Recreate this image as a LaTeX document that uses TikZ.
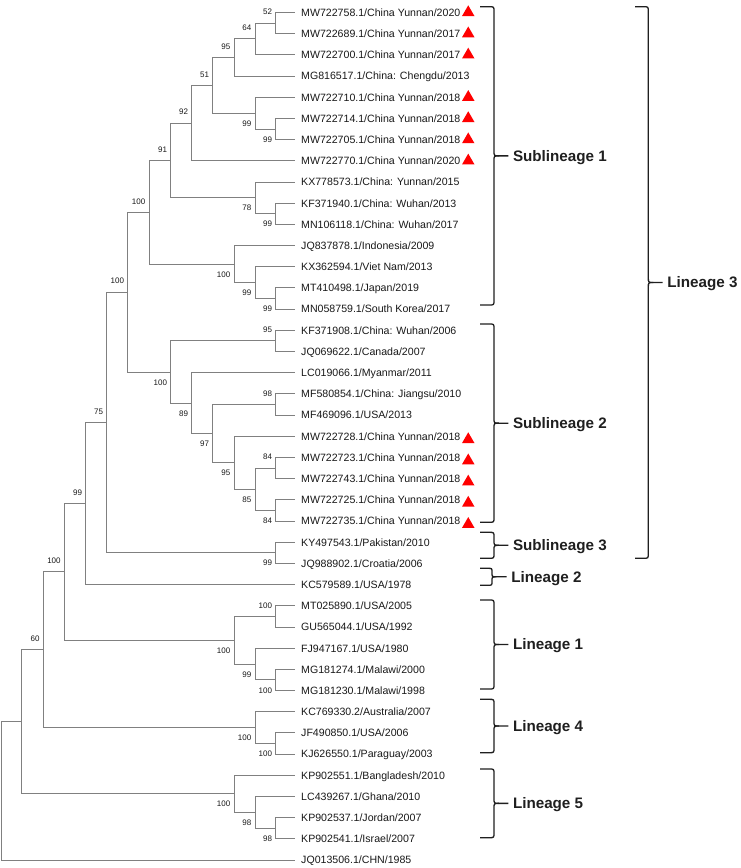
\documentclass[tikz,border=0pt]{standalone}
\usepackage{fontspec}
\setmainfont{Liberation Sans}
\newcommand\cladebrace[7]{% #1 name, #2 hook x, #3 spine x, #4 tip x, #5 top y, #6 bottom y, #7 text
  \pgfmathsetmacro\cbm{(#5+#6)/2}%
  \pgfmathsetmacro\cbr{min(5,(#6-#5)/4)}%
  \coordinate (#1-top) at (#2,#5);
  \coordinate (#1-bot) at (#2,#6);
  \coordinate (#1-tip) at (#4,\cbm);
  \draw[brace] (#1-top) -- (#3-\cbr,#5) .. controls (#3,#5) .. (#3,#5+\cbr) -- (#3,\cbm-\cbr) .. controls (#3,\cbm) .. (#3+\cbr,\cbm) -- (#1-tip);
  \draw[brace] (#3+\cbr,\cbm) .. controls (#3,\cbm) .. (#3,\cbm+\cbr) -- (#3,#6-\cbr) .. controls (#3,#6) .. (#3-\cbr,#6) -- (#1-bot);
  \node[clade] (#1) at (#1-tip) {#7};
}
\newcommand\redmark[2]{\fill[tri] ([shift={(173.25,#2-7.2)}]l#1) -- ([shift={(179.5,#2+3.6)}]l#1) -- ([shift={(167,#2+3.6)}]l#1) -- cycle;}
\begin{document}
\begin{tikzpicture}[x=1pt,y=-1pt,
  br/.style={draw=gray, line width=1pt},
  leaf/.style={anchor=base west, inner sep=0pt, font=\fontsize{10.6}{12}\selectfont, text=black!90, xshift=6pt, yshift=-3.8pt},
  bsup/.style={anchor=east, inner sep=0pt, font=\fontsize{8}{9}\selectfont, text=black!90, xshift=-3.5pt, yshift=11pt},
  bsdn/.style={anchor=east, inner sep=0pt, font=\fontsize{8}{9}\selectfont, text=black!90, xshift=-3.5pt, yshift=-10.3pt},
  brace/.style={draw=black!88, line width=1.3pt},
  clade/.style={anchor=base west, inner sep=0pt, font=\fontsize{15.2}{18}\selectfont\bfseries, text=black!88, xshift=4.5pt, yshift=-5.4pt},
  tri/.style={fill=red}
]
\fill[white] (0,0) rectangle (740,868);
\useasboundingbox (0,0) rectangle (740,868);

% leaf tips
\foreach \i in {1,...,41} { \coordinate (l\i) at (295,{12.5+21.19*(\i-1)}); }

% internal nodes
\coordinate (n12)   at (275.7,23.10);
\coordinate (n123)  at (255,38.99);
\coordinate (n1234) at (234,57.53);
\coordinate (n67)   at (275.7,129.05);
\coordinate (n567)  at (255,113.15);
\coordinate (nX4)   at (212.7,85.34);
\coordinate (nX3)   at (191.7,123.09);
\coordinate (n1011) at (275.7,213.80);
\coordinate (nK1)   at (255,197.91);
\coordinate (nX2)   at (170.7,160.50);
\coordinate (n1415) at (275.7,298.57);
\coordinate (nZ1)   at (255,282.67);
\coordinate (nY1)   at (234,264.13);
\coordinate (nX1)   at (149,212.32);
\coordinate (n1617) at (275.7,340.95);
\coordinate (n1920) at (275.7,404.52);
\coordinate (n2223) at (275.7,468.09);
\coordinate (n2425) at (275.7,510.47);
\coordinate (nJ)    at (255,489.28);
\coordinate (nI)    at (234,462.79);
\coordinate (nH)    at (212.7,433.66);
\coordinate (nG)    at (191.7,403.20);
\coordinate (nS2)   at (170.7,372.08);
\coordinate (nWb)   at (127.7,292.20);
\coordinate (n2627) at (275.7,552.85);
\coordinate (nVb)   at (106.7,422.52);
\coordinate (nU)    at (85.7,503.58);
\coordinate (n2930) at (275.7,616.42);
\coordinate (n3233) at (275.7,679.99);
\coordinate (nV)    at (255,664.10);
\coordinate (nL1)   at (234,640.26);
\coordinate (nT)    at (64.3,571.92);
\coordinate (n3536) at (275.7,743.56);
\coordinate (nL4)   at (255,727.67);
\coordinate (nN60)  at (43.3,649.80);
\coordinate (n3940) at (275.7,828.32);
\coordinate (nQ)    at (255,812.43);
\coordinate (nL5)   at (234,793.89);
\coordinate (nP)    at (21.7,721.85);
\coordinate (root)  at (1.5,790.98);

% branches
\foreach \p/\c in {n12/l1,n12/l2,n123/n12,n123/l3,n1234/n123,n1234/l4,
  n67/l6,n67/l7,n567/l5,n567/n67,nX4/n1234,nX4/n567,nX3/nX4,nX3/l8,
  n1011/l10,n1011/l11,nK1/l9,nK1/n1011,nX2/nX3,nX2/nK1,
  n1415/l14,n1415/l15,nZ1/l13,nZ1/n1415,nY1/l12,nY1/nZ1,nX1/nX2,nX1/nY1,
  n1617/l16,n1617/l17,n1920/l19,n1920/l20,n2223/l22,n2223/l23,n2425/l24,n2425/l25,
  nJ/n2223,nJ/n2425,nI/l21,nI/nJ,nH/n1920,nH/nI,nG/l18,nG/nH,nS2/n1617,nS2/nG,
  nWb/nX1,nWb/nS2,n2627/l26,n2627/l27,nVb/nWb,nVb/n2627,nU/nVb,nU/l28,
  n2930/l29,n2930/l30,n3233/l32,n3233/l33,nV/l31,nV/n3233,nL1/n2930,nL1/nV,
  nT/nU,nT/nL1,n3536/l35,n3536/l36,nL4/l34,nL4/n3536,nN60/nT,nN60/nL4,
  n3940/l39,n3940/l40,nQ/l38,nQ/n3940,nL5/l37,nL5/nQ,nP/nN60,nP/nL5,
  root/nP,root/l41}
  { \draw[br] (\p) |- (\c); }

% bootstrap values
\foreach \n/\v in {n12/52,n123/64,n1234/95,nX4/51,nX3/92,nX2/91,nX1/100,
  n1617/95,n1920/98,n2223/84,nWb/100,nVb/75,nU/99,n2930/100,nT/100,nN60/60}
  { \node[bsup] (b\n) at (\n) {\v}; }
\foreach \n/\v in {n67/99,n567/99,n1011/99,nK1/78,n1415/99,nZ1/99,nY1/100,
  n2425/84,nJ/85,nI/95,nH/97,nG/89,nS2/100,n2627/99,n3233/100,nV/99,nL1/100,
  n3536/100,nL4/100,n3940/98,nQ/98,nL5/100}
  { \node[bsdn] (b\n) at (\n) {\v}; }

% leaf labels
\node[leaf] (t1) at (l1) {MW722758.1/China Yunnan/2020};
\node[leaf] (t2) at (l2) {MW722689.1/China Yunnan/2017};
\node[leaf] (t3) at (l3) {MW722700.1/China Yunnan/2017};
\node[leaf] (t4) at (l4) {MG816517.1/China: Chengdu/2013};
\node[leaf] (t5) at (l5) {MW722710.1/China Yunnan/2018};
\node[leaf] (t6) at (l6) {MW722714.1/China Yunnan/2018};
\node[leaf] (t7) at (l7) {MW722705.1/China Yunnan/2018};
\node[leaf] (t8) at (l8) {MW722770.1/China Yunnan/2020};
\node[leaf] (t9) at (l9) {KX778573.1/China: Yunnan/2015};
\node[leaf] (t10) at (l10) {KF371940.1/China: Wuhan/2013};
\node[leaf] (t11) at (l11) {MN106118.1/China: Wuhan/2017};
\node[leaf] (t12) at (l12) {JQ837878.1/Indonesia/2009};
\node[leaf] (t13) at (l13) {KX362594.1/Viet Nam/2013};
\node[leaf] (t14) at (l14) {MT410498.1/Japan/2019};
\node[leaf] (t15) at (l15) {MN058759.1/South Korea/2017};
\node[leaf] (t16) at (l16) {KF371908.1/China: Wuhan/2006};
\node[leaf] (t17) at (l17) {JQ069622.1/Canada/2007};
\node[leaf] (t18) at (l18) {LC019066.1/Myanmar/2011};
\node[leaf] (t19) at (l19) {MF580854.1/China: Jiangsu/2010};
\node[leaf] (t20) at (l20) {MF469096.1/USA/2013};
\node[leaf] (t21) at (l21) {MW722728.1/China Yunnan/2018};
\node[leaf] (t22) at (l22) {MW722723.1/China Yunnan/2018};
\node[leaf] (t23) at (l23) {MW722743.1/China Yunnan/2018};
\node[leaf] (t24) at (l24) {MW722725.1/China Yunnan/2018};
\node[leaf] (t25) at (l25) {MW722735.1/China Yunnan/2018};
\node[leaf] (t26) at (l26) {KY497543.1/Pakistan/2010};
\node[leaf] (t27) at (l27) {JQ988902.1/Croatia/2006};
\node[leaf] (t28) at (l28) {KC579589.1/USA/1978};
\node[leaf] (t29) at (l29) {MT025890.1/USA/2005};
\node[leaf] (t30) at (l30) {GU565044.1/USA/1992};
\node[leaf] (t31) at (l31) {FJ947167.1/USA/1980};
\node[leaf] (t32) at (l32) {MG181274.1/Malawi/2000};
\node[leaf] (t33) at (l33) {MG181230.1/Malawi/1998};
\node[leaf] (t34) at (l34) {KC769330.2/Australia/2007};
\node[leaf] (t35) at (l35) {JF490850.1/USA/2006};
\node[leaf] (t36) at (l36) {KJ626550.1/Paraguay/2003};
\node[leaf] (t37) at (l37) {KP902551.1/Bangladesh/2010};
\node[leaf] (t38) at (l38) {LC439267.1/Ghana/2010};
\node[leaf] (t39) at (l39) {KP902537.1/Jordan/2007};
\node[leaf] (t40) at (l40) {KP902541.1/Israel/2007};
\node[leaf] (t41) at (l41) {JQ013506.1/CHN/1985};

% red triangles
\foreach \i in {1,2,3,5,6,7,8} { \redmark{\i}{0} }
\foreach \i in {21,22,23,24,25} { \redmark{\i}{3.2} }

% clade braces
\cladebrace{sub1}{480}{494}{508.3}{6.7}{305}{Sublineage 1}
\cladebrace{sub2}{480}{494}{508.3}{324}{522.3}{Sublineage 2}
\cladebrace{sub3}{480}{494}{508.3}{532.3}{558.3}{Sublineage 3}
\cladebrace{lin3}{635}{648.3}{662.7}{6.7}{558.3}{Lineage 3}
\cladebrace{lin2}{480}{492}{506.7}{568.3}{585.3}{Lineage 2}
\cladebrace{lin1}{480}{494}{508.3}{600}{689}{Lineage 1}
\cladebrace{lin4}{480}{494}{508.3}{699.3}{752.7}{Lineage 4}
\cladebrace{lin5}{480}{494}{508.3}{769}{837.7}{Lineage 5}
\end{tikzpicture}
\end{document}
